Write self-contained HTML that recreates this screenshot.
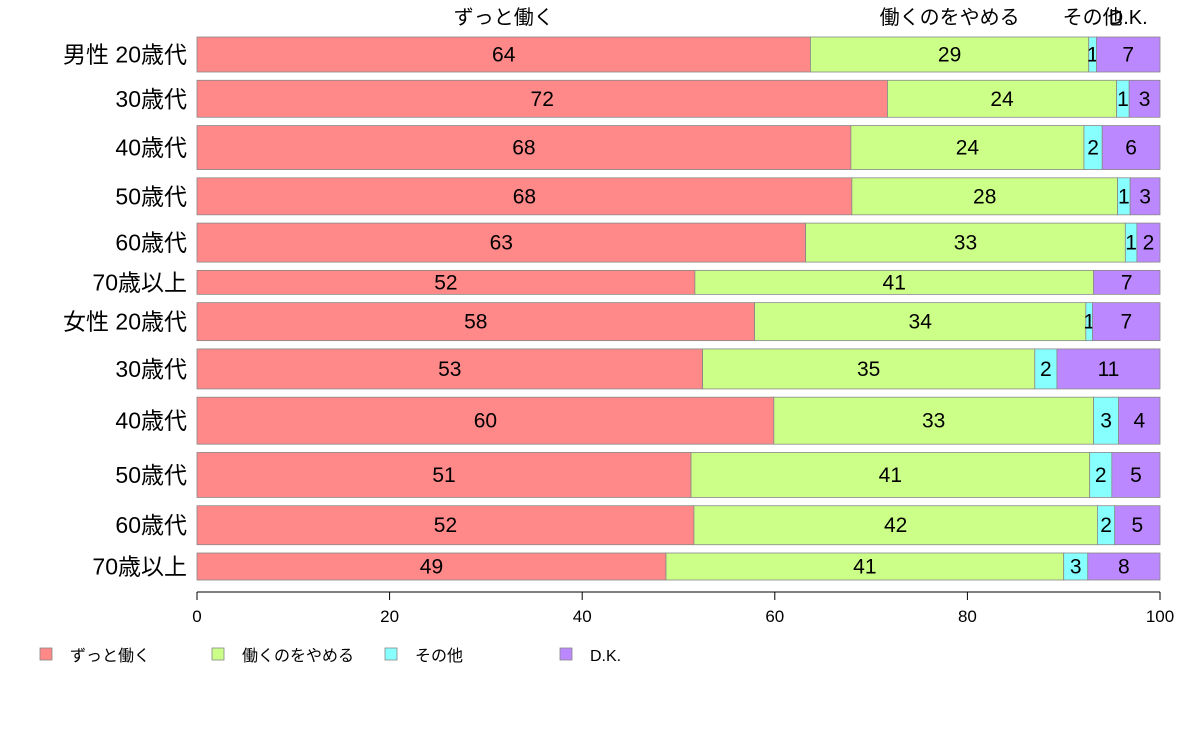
<!DOCTYPE html>
<html><head><meta charset="utf-8"><style>
body{margin:0;background:#fff;}
svg text{font-family:"Liberation Sans","Noto Sans CJK JP",sans-serif;}
</style></head><body>
<svg id="c" width="1188" height="736" xmlns="http://www.w3.org/2000/svg"></svg>
<script>
const categories=["男性 20歳代","30歳代","40歳代","50歳代","60歳代","70歳以上","女性 20歳代","30歳代","40歳代","50歳代","60歳代","70歳以上"];
const seriesNames=["ずっと働く","働くのをやめる","その他","D.K."];
const work=[63.7,71.7,67.9,68.0,63.2,51.7,57.9,52.5,59.9,51.3,51.6,48.7];
const quit=[28.9,23.8,24.2,27.6,33.2,41.4,34.4,34.5,33.2,41.4,41.9,41.3];
const other=[0.8,1.3,1.9,1.3,1.2,0,0.7,2.3,2.6,2.3,1.8,2.5];
const dk=[6.6,3.2,6.0,3.1,2.4,6.9,7.0,10.7,4.3,5.0,4.7,7.5];
const weights=[35,37,44,37,39,24,38,40,47,45,39,27];
const ticks=[0,20,40,60,80,100];
const colors=["#FF8888","#CCFF88","#88FFFF","#BB88FF"];
const svgEl=document.getElementById('c');
const NS="http://www.w3.org/2000/svg";
const x0=197,x1=1160,yTop=37,yBottom=580;
const xs=v=>x0+(x1-x0)*v/100;
function mk(t,a,p){const e=document.createElementNS(NS,t);for(const k in a)e.setAttribute(k,a[k]);(p||svgEl).appendChild(e);return e;}
const totalW=weights.reduce((a,b)=>a+b,0);
const gap=(yBottom-yTop-totalW)/(categories.length-1);
const series=[work,quit,other,dk];
let yy=yTop;
categories.forEach((cat,i)=>{
  const h=weights[i];
  const g=mk('g',{});
  
  
  let acc=0;
  series.forEach((s,j)=>{
    const v=s[i];
    const r=mk('rect',{x:xs(acc),y:yy,width:xs(acc+v)-xs(acc),height:h,fill:colors[j],stroke:"#888","stroke-width":0.8},g);
    
    
    if(Math.round(v)>0){
      const t=mk('text',{x:xs(acc+v/2),y:yy+h/2+7,"text-anchor":"middle","font-size":21,fill:"#000"},g);
      t.textContent=Math.round(v);
      
      
    }
    if(i===0){
      const t=mk('text',{x:xs(acc+v/2),y:24,"text-anchor":"middle","font-size":20,fill:"#000"});
      t.textContent=seriesNames[j];
      
      
    }
    acc+=v;
  });
  const t=mk('text',{x:187,y:yy+h/2+8,"text-anchor":"end","font-size":23,fill:"#000"});
  t.textContent=cat;
  
  
  yy+=h+gap;
});
const ax=mk('line',{x1:x0,y1:592,x2:x1,y2:592,stroke:"#000","stroke-width":1});


ticks.forEach(v=>{
  const l=mk('line',{x1:xs(v),y1:592,x2:xs(v),y2:600,stroke:"#000"});
  
  
  const t=mk('text',{x:xs(v),y:622,"text-anchor":"middle","font-size":17,fill:"#000"});
  t.textContent=v;
  
  
});
const lx=[40,212,385,560];
seriesNames.forEach((n,j)=>{
  const g=mk('g',{});
  
  
  mk('rect',{x:lx[j],y:648,width:12,height:12,fill:colors[j],stroke:"#888","stroke-width":0.8},g);
  const t=mk('text',{x:lx[j]+30,y:661,"font-size":16,fill:"#000"},g);
  t.textContent=n;
});
</script>
</body></html>
